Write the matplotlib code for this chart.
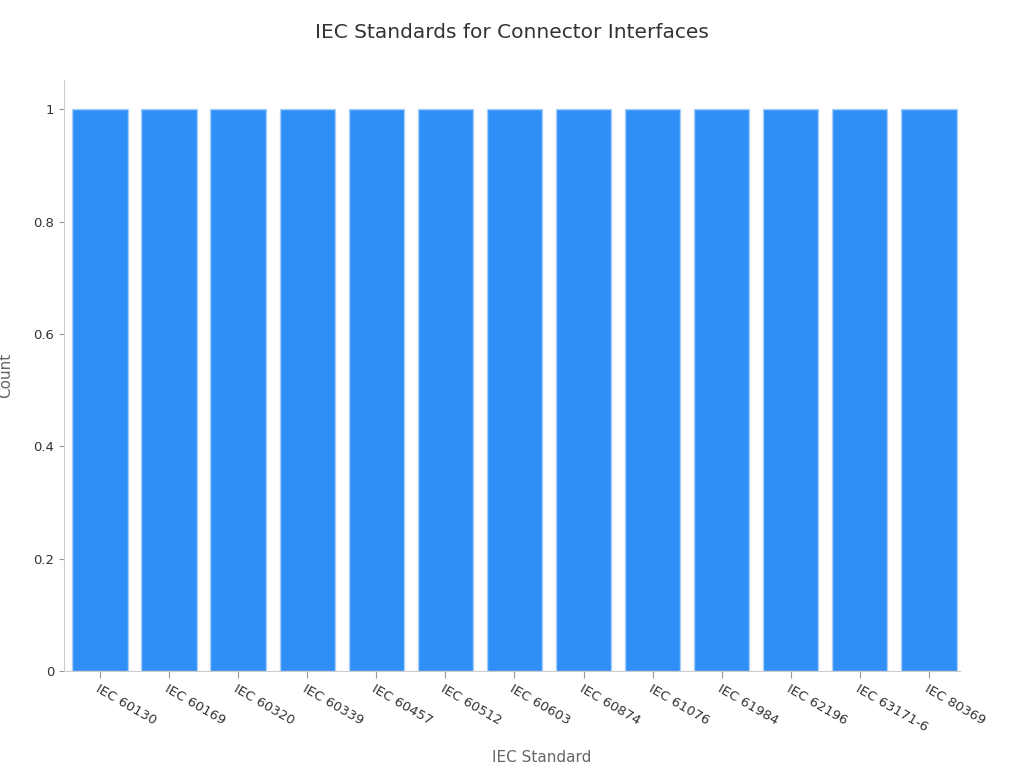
import matplotlib.pyplot as plt
from matplotlib.ticker import FuncFormatter

standards = ["IEC 60130", "IEC 60169", "IEC 60320", "IEC 60339", "IEC 60457",
             "IEC 60512", "IEC 60603", "IEC 60874", "IEC 61076", "IEC 61984",
             "IEC 62196", "IEC 63171-6", "IEC 80369"]
counts = [1, 1, 1, 1, 1, 1, 1, 1, 1, 1, 1, 1, 1]

fig = plt.figure(figsize=(10.24, 7.68), dpi=100)
ax = fig.add_axes([64 / 1024, 1 - 671 / 768, 896 / 1024, 591 / 768])

x = range(len(standards))
ax.bar(x, counts, width=0.8, color="#2F8FF7", edgecolor="#A9CFF9", linewidth=1)

ax.set_xlim(-0.52, len(standards) - 0.55)
ax.set_ylim(0, 1.052)
ax.set_yticks([0, 0.2, 0.4, 0.6, 0.8, 1])
ax.yaxis.set_major_formatter(FuncFormatter(lambda v, p: f"{v:g}"))
ax.set_xticks(list(x))
ax.set_xticklabels(standards, rotation=-30, ha="left", rotation_mode="anchor", fontsize=9.5, color="#333333")
ax.tick_params(axis="y", labelsize=9.5, labelcolor="#333333", color="#999999")
ax.tick_params(axis="x", color="#999999", length=5)

for s in ["top", "right"]:
    ax.spines[s].set_visible(False)
for s in ["left", "bottom"]:
    ax.spines[s].set_color("#cccccc")

ax.set_xlabel("IEC Standard", fontsize=11, color="#666666")
ax.set_ylabel("Count", fontsize=11, color="#666666")
ax.xaxis.set_label_coords((542 - 64) / 896, -(750 - 671) / 591)
ax.yaxis.set_label_coords(-(64 - 13) / 896, (671 - 375) / 591)
fig.suptitle("IEC Standards for Connector Interfaces", fontsize=14.5, color="#333333", y=0.97)

fig.savefig("out.png", dpi=100)
